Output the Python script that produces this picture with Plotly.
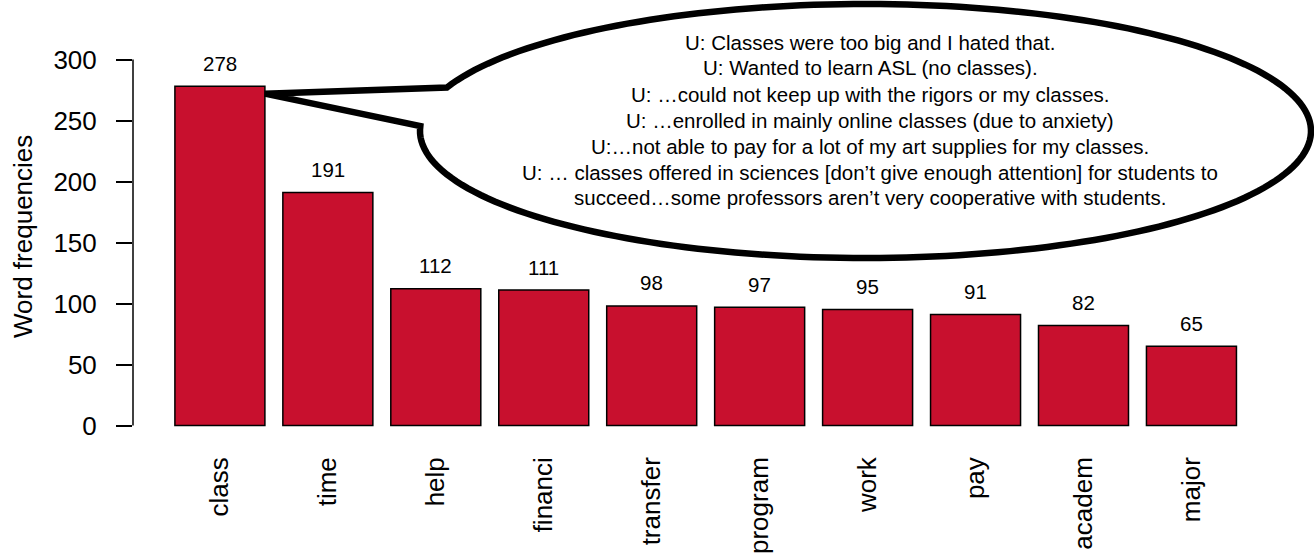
import math
import plotly.graph_objects as go

# ---- data ----
words = ["class", "time", "help", "financi", "transfer", "program", "work", "pay", "academ", "major"]
freqs = [278, 191, 112, 111, 98, 97, 95, 91, 82, 65]
y_ticks = [0, 50, 100, 150, 200, 250, 300]
quotes = [
    "U: Classes were too big and I hated that.",
    "U: Wanted to learn ASL (no classes).",
    "U: \u2026could not keep up with the rigors or my classes.",
    "U: \u2026enrolled in mainly online classes (due to anxiety)",
    "U:\u2026not able to pay for a lot of my art supplies for my classes.",
    "U: \u2026 classes offered in sciences [don\u2019t give enough attention] for students to",
    "succeed\u2026some professors aren\u2019t very cooperative with students.",
]
y_title = "Word frequencies"

# ---- layout geometry (pixels) ----
W, H = 1314, 555
ML, MR, MT, MB = 133, 0, 0, 125
PLOT_W = W - ML - MR
PLOT_H = H - MT - MB
X0_PX, PITCH = 219.9, 107.95       # pixel centre of first bar, pixel per category
Y0_PX, PX_PER_UNIT = 425.5, 1.22   # pixel of value 0, pixels per unit


def px2x(px):
    return (px - X0_PX) / PITCH


def py2y(py):
    return (Y0_PX - py) / PX_PER_UNIT


FONT = "Liberation Sans, Arial, Helvetica, sans-serif"
BAR_W = 90 / PITCH

fig = go.Figure()
fig.add_trace(go.Bar(
    x=list(range(len(words))), y=freqs, width=BAR_W,
    marker=dict(color="#C8102E", line=dict(color="black", width=1.5)),
    hoverinfo="skip",
))

annotations = []
for i, v in enumerate(freqs):
    annotations.append(dict(
        x=i, y=v, xref="x", yref="y", text=str(v), showarrow=False,
        yanchor="middle", yshift=23, font=dict(family=FONT, size=20.5, color="black"),
    ))

# y axis title
annotations.append(dict(
    x=(22.5 - ML) / PLOT_W, y=(PLOT_H - 236.5) / PLOT_H, xref="paper", yref="paper",
    text=y_title, textangle=-90, showarrow=False, xanchor="center", yanchor="middle",
    font=dict(family=FONT, size=26, color="black"),
))

# speech bubble
CX, CY, RX, RY = 865.5, 131.0, 445.5, 127.0
t_start = math.atan2((88 - CY) / RY, (452 - CX) / RX)
t_end = math.atan2((126 - CY) / RY, (422 - CX) / RX)
if t_end < t_start:
    t_end += 2 * math.pi
n = 200
pts = []
for k in range(n + 1):
    t = t_start + (t_end - t_start) * k / n
    px = CX + RX * math.cos(t)
    py = CY + RY * math.sin(t)
    pts.append((px2x(px), py2y(py)))
tip = (0 + BAR_W / 2, freqs[0] - 6)
path = "M {:.5f},{:.5f} ".format(*pts[0])
path += " ".join("L {:.5f},{:.5f}".format(*p) for p in pts[1:])
path += " L {:.5f},{:.5f} Z".format(*tip)

shapes = [
    dict(type="path", path=path, xref="x", yref="y", fillcolor="white",
         line=dict(color="black", width=6.5), layer="above"),
    dict(type="line", xref="paper", yref="y", x0=0, x1=0, y0=y_ticks[0], y1=y_ticks[-1],
         line=dict(color="black", width=1.5)),
]

for k, q in enumerate(quotes):
    py = 42 + 26 * k
    annotations.append(dict(
        x=(870 - ML) / PLOT_W, y=(PLOT_H - py) / PLOT_H, xref="paper", yref="paper",
        text=q, showarrow=False, xanchor="center", yanchor="middle",
        font=dict(family=FONT, size=20.5, color="black"),
    ))

fig.update_layout(
    width=W, height=H,
    margin=dict(l=ML, r=MR, t=MT, b=MB, pad=0),
    paper_bgcolor="white", plot_bgcolor="white",
    showlegend=False,
    font=dict(family=FONT, color="black"),
    xaxis=dict(
        range=[px2x(ML), px2x(W - MR)], tickmode="array",
        tickvals=list(range(len(words))), ticktext=words, tickangle=-90,
        ticks="", showline=False, showgrid=False, zeroline=False,
        tickfont=dict(family=FONT, size=26, color="black"),
        ticklabelstandoff=21, automargin=False,
    ),
    yaxis=dict(
        range=[py2y(MT + PLOT_H), py2y(MT)], tickmode="array", tickvals=y_ticks,
        ticks="outside", ticklen=16, tickwidth=1.5, tickcolor="black",
        showline=False, showgrid=False, zeroline=False,
        tickfont=dict(family=FONT, size=26, color="black"),
        ticklabelstandoff=14, automargin=False,
    ),
    shapes=shapes,
    annotations=annotations,
)

fig.write_html(
    "out.html",
    config={"displayModeBar": False},
    post_script="document.body.style.margin='0px';document.body.style.padding='0px';",
)
